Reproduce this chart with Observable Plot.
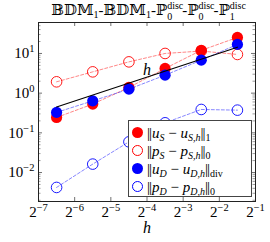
<!DOCTYPE html>
<html><head><meta charset="utf-8">
<script src="https://cdn.jsdelivr.net/npm/d3@7"></script>
<script src="https://cdn.jsdelivr.net/npm/@observablehq/plot@0.6"></script>
<style>
body{margin:0;background:#fff;}
#wrap{position:relative;width:270px;height:242px;font-family:"Liberation Serif","DejaVu Serif",serif;color:#000;}
#title{position:absolute;left:13px;top:1px;width:270px;text-align:center;font-size:15px;line-height:18px;white-space:nowrap;}
#title sub{font-size:10px;vertical-align:-3px;line-height:0;}
.st{display:inline-block;position:relative;width:15px;height:10px;font-size:10px;line-height:10px;}
.st .sp{position:absolute;left:0;top:-4px;}
.st .sb{position:absolute;left:0;top:7px;}
#legend{position:absolute;left:128px;top:120px;width:122px;height:75px;border:1px solid #444;background:#fff;}
.row{position:absolute;left:0;height:18px;width:122px;font-size:15px;line-height:18px;white-space:nowrap;}
.mk{position:absolute;left:3px;top:3px;width:11px;height:11px;border-radius:50%;box-sizing:border-box;}
.tx{position:absolute;left:18px;top:0;}
.tx sub{font-size:10px;vertical-align:-3px;line-height:0;}
.nb{letter-spacing:-1px;margin-right:1px;}
</style></head>
<body><div id="wrap"></div>
<script>
// mesh sizes h
const hVals = [0.011049, 0.022097, 0.044194, 0.088388, 0.176777, 0.353553];
// errors
const uS = [0.244, 0.53, 1.39, 4.19, 12.0, 25.3];
const pS = [1.93, 3.44, 6.14, 10.0, 11.5, 9.44];
const uD = [0.327, 0.64, 1.26, 2.84, 6.78, 16.9];
const pD = [0.00421, 0.0163, 0.0593, 0.179, 0.388, 0.373];
// reference slope line (order h)
const refX = [0.011049, 0.353553];
const refY = [0.45, 14.4];
const refLabelX = [0.0625];
const refLabelY = [2.55];
// ticks
const yTicks = [10, 1, 0.1, 0.01];
const yExp = ["1", "0", "−1", "−2"];
const xTicks = [0.0078125, 0.015625, 0.03125, 0.0625, 0.125, 0.25, 0.5];
const xExp = ["−7", "−6", "−5", "−4", "−3", "−2", "−1"];
const yMinor = [];
for (const k of [-3, -2, -1, 0, 1]) for (const m of [2,3,4,5,6,7,8,9]) yMinor.push(m * 10 ** k);

const W = 270, H = 242, mL = 38, mR = 15, mT = 22, mB = 41;
const fw = W - mL - mR, fh = H - mT - mB;
const yDom = [10 ** -2.73, 10 ** 1.78];
const yMinorIn = yMinor.filter(v => v > yDom[0] && v < yDom[1]);

const rows = arr => hVals.map((h, i) => ({h, v: arr[i]}));
const refRows = refX.map((h, i) => ({h, v: refY[i]}));
const dash = {strokeDasharray: "3,2", strokeWidth: 0.8, strokeOpacity: 0.6};
const FONT = "'Liberation Serif','DejaVu Serif',serif";

const plot = Plot.plot({
  width: W, height: H,
  marginLeft: mL, marginRight: mR, marginTop: mT, marginBottom: mB,
  style: {fontFamily: FONT, fontSize: "15px", background: "transparent", color: "#000"},
  x: {type: "log", base: 2, domain: [2 ** -7, 2 ** -1]},
  y: {type: "log", domain: yDom},
  marks: [
    Plot.axisY(yTicks, {tickSize: 0, tickPadding: 4, fontSize: 15, label: null,
      tickFormat: (d, i) => "10^" + yExp[yTicks.indexOf(d)]}),
    Plot.axisX(xTicks, {tickSize: 0, tickPadding: 5, fontSize: 15, label: null,
      tickFormat: (d) => "2^" + xExp[xTicks.indexOf(d)]}),
    Plot.ruleY(yTicks, {y: d => d, insetRight: fw - 4, stroke: "#333", strokeWidth: 0.7}),
    Plot.ruleY(yTicks, {y: d => d, insetLeft: fw - 4, stroke: "#333", strokeWidth: 0.7}),
    Plot.ruleY(yMinorIn, {y: d => d, insetRight: fw - 2.5, stroke: "#555", strokeWidth: 0.6}),
    Plot.ruleY(yMinorIn, {y: d => d, insetLeft: fw - 2.5, stroke: "#555", strokeWidth: 0.6}),
    Plot.ruleX(xTicks.slice(1, -1), {x: d => d, insetTop: fh - 4, stroke: "#333", strokeWidth: 0.7}),
    Plot.ruleX(xTicks.slice(1, -1), {x: d => d, insetBottom: fh - 4, stroke: "#333", strokeWidth: 0.7}),
    Plot.frame({stroke: "#222", strokeWidth: 1}),
    Plot.line(rows(uS), {x: "h", y: "v", stroke: "red", ...dash}),
    Plot.dot(rows(uS), {x: "h", y: "v", r: 5.6, fill: "red"}),
    Plot.line(rows(pS), {x: "h", y: "v", stroke: "red", ...dash}),
    Plot.dot(rows(pS), {x: "h", y: "v", r: 5.3, stroke: "red", strokeWidth: 0.9, fill: "none"}),
    Plot.line(rows(uD), {x: "h", y: "v", stroke: "blue", ...dash}),
    Plot.dot(rows(uD), {x: "h", y: "v", r: 5.6, fill: "blue"}),
    Plot.line(rows(pD), {x: "h", y: "v", stroke: "blue", ...dash}),
    Plot.dot(rows(pD), {x: "h", y: "v", r: 5.3, stroke: "blue", strokeWidth: 0.9, fill: "none"}),
    Plot.line(refRows, {x: "h", y: "v", stroke: "black", strokeWidth: 1.1}),
    Plot.text(refLabelX.map((x, i) => ({x, y: refLabelY[i]})), {x: "x", y: "y", text: () => "h",
      fontStyle: "italic", fontSize: 16, dy: -7, dx: 0}),
    Plot.text([0], {frameAnchor: "bottom", text: () => "h", fontStyle: "italic", fontSize: 16, dy: 31})
  ]
});

// superscript exponents in tick labels
d3.select(plot).selectAll("g[aria-label$='tick label'] text").each(function () {
  const s = this.textContent;
  if (!s.includes("^")) return;
  const [base, exp] = s.split("^");
  const t = d3.select(this);
  t.text(base);
  t.append("tspan").attr("font-size", "10.5px").attr("dy", "-6").text(exp);
});

const wrap = document.getElementById("wrap");
wrap.appendChild(plot);

const title = document.createElement("div");
title.id = "title";
const st = s => `<span class="st"><span class="sp">disc</span><span class="sb">${s}</span></span>`;
title.innerHTML = `𝔹𝔻𝕄<sub>1</sub>-𝔹𝔻𝕄<sub>1</sub>-ℙ${st(0)}-ℙ${st(0)}-ℙ${st(1)}`;
wrap.appendChild(title);

const legend = document.createElement("div");
legend.id = "legend";
const N = `<span class="nb">||</span>`;
const entries = [
  {fill: "red", open: false, html: `${N}<i>u</i><sub><i>S</i></sub> − <i>u</i><sub><i>S,h</i></sub>${N}<sub>1</sub>`},
  {fill: "red", open: true, html: `${N}<i>p</i><sub><i>S</i></sub> − <i>p</i><sub><i>S,h</i></sub>${N}<sub>0</sub>`},
  {fill: "blue", open: false, html: `${N}<i>u</i><sub><i>D</i></sub> − <i>u</i><sub><i>D,h</i></sub>${N}<sub>div</sub>`},
  {fill: "blue", open: true, html: `${N}<i>p</i><sub><i>D</i></sub> − <i>p</i><sub><i>D,h</i></sub>${N}<sub>0</sub>`}
];
entries.forEach((e, i) => {
  const r = document.createElement("div");
  r.className = "row";
  r.style.top = (2.5 + 18.2 * i) + "px";
  const mk = e.open ? `border:1px solid ${e.fill};` : `background:${e.fill};`;
  r.innerHTML = `<span class="mk" style="${mk}"></span><span class="tx">${e.html}</span>`;
  legend.appendChild(r);
});
wrap.appendChild(legend);
</script>
</body></html>
